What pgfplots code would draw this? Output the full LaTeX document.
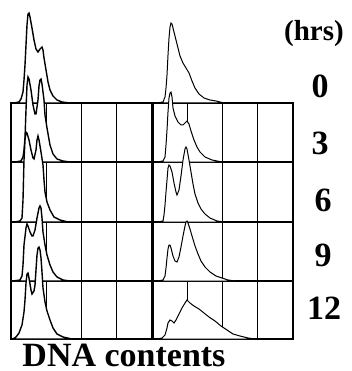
\documentclass[border=0pt]{standalone}
\usepackage{pgfplots}
\pgfplotsset{compat=1.18}
\usepackage{fontspec}
\setmainfont{Liberation Serif}
\begin{document}
\begin{tikzpicture}
\begin{axis}[
 scale only axis, width=282pt, height=236pt,
 xmin=11, xmax=293, ymin=103, ymax=339, y dir=reverse,
 clip=false,
 ticks=none,
 axis line style={black, line width=1.3pt},
]
\path (axis cs:0,0) (axis cs:352,371);
% grid
\addplot[black, line width=1.3pt, unbounded coords=jump] coordinates {(46.25,103)(46.25,339)(nan,nan)(81.5,103)(81.5,339)(nan,nan)(116.75,103)(116.75,339)(nan,nan)(187.25,103)(187.25,339)(nan,nan)(222.5,103)(222.5,339)(nan,nan)(257.75,103)(257.75,339)(nan,nan)(11,162)(293,162)(nan,nan)(11,222)(293,222)(nan,nan)(11,281)(293,281)};
\addplot[black, line width=3pt] coordinates {(152,103)(152,339)};
% row 0
\addplot[draw=black, fill=white, line width=1.4pt] coordinates {(14,103)(19,102)(21,99)(23,92)(24,80)(25,65)(26,45)(27,25)(28,14)(29,13)(30,17)(32,28)(34,40)(36,49)(38,52)(40,49)(42,47)(43,50)(44,58)(46,70)(48,82)(50,90)(53,96)(57,100)(62,102)(70,103)} -- cycle;
\addplot[draw=black, fill=white, line width=1pt] coordinates {(156,103)(163,102)(165,97)(166,88)(167,75)(168,55)(169,38)(170,27)(171,23)(172,24)(174,32)(176,40)(178,48)(180,56)(183,63)(186,68)(189,73)(192,81)(195,88)(199,94)(204,98)(210,100)(216,101)(224,103)} -- cycle;
% row 3
\addplot[draw=black, fill=white, line width=1.4pt] coordinates {(15,162)(21,161)(23,157)(24,150)(25,138)(26,110)(27,85)(28,77)(29,79)(31,90)(33,105)(35,114)(36,114)(38,100)(39,86)(40,80)(41,79)(42,84)(44,100)(45,115)(47,128)(50,145)(53,154)(57,159)(63,161)(70,162)} -- cycle;
\addplot[draw=black, fill=white, line width=1pt] coordinates {(157,162)(163,161)(165,157)(166,145)(167,130)(168,112)(169,98)(170,93)(171,92)(172,97)(173,108)(175,116)(178,122)(181,125)(183,125)(185,123)(187,121)(189,124)(191,131)(194,140)(197,147)(200,152)(205,157)(212,160)(222,162)} -- cycle;
% row 6
\addplot[draw=black, fill=white, line width=1.4pt] coordinates {(15,222)(20,221)(22,218)(23,200)(24,160)(25,140)(26,132)(27,133)(29,140)(31,150)(33,158)(34,159)(36,150)(37,140)(38,136)(39,140)(41,152)(43,165)(44,180)(45,192)(47,202)(50,210)(54,217)(60,220)(68,222)} -- cycle;
\addplot[draw=black, fill=white, line width=1pt] coordinates {(157,222)(163,221)(164,215)(165,205)(166,192)(167,180)(168,168)(169,165)(170,166)(172,172)(174,183)(176,192)(177,195)(179,190)(181,176)(183,160)(185,149)(186,147)(187,149)(189,160)(191,172)(193,184)(195,194)(198,203)(201,209)(205,214)(210,218)(217,221)(224,222)} -- cycle;
% row 9
\addplot[draw=black, fill=white, line width=1.4pt] coordinates {(13,281)(20,280)(22,276)(23,265)(24,245)(26,228)(27,224)(28,226)(30,232)(32,236)(33,236)(35,230)(37,218)(39,208)(40,206)(41,208)(42,218)(43,232)(45,245)(47,255)(50,265)(53,272)(57,277)(63,280)(70,281)} -- cycle;
\addplot[draw=black, fill=white, line width=1pt] coordinates {(158,281)(163,280)(165,276)(166,268)(167,258)(168,249)(169,245)(170,245)(171,248)(173,256)(175,261)(177,262)(179,257)(181,247)(183,236)(185,226)(186,222)(187,221)(188,223)(190,229)(192,236)(195,246)(198,254)(201,261)(205,267)(210,272)(216,276)(222,278)(228,280)(235,281)} -- cycle;
% row 12
\addplot[draw=black, fill=white, line width=1.4pt] coordinates {(13,339)(16,337)(19,333)(22,325)(24,312)(25,300)(26,283)(27,274)(28,273)(29,278)(31,290)(32,294)(34,291)(35,285)(36,270)(37,255)(38,248)(39,247)(40,250)(41,258)(42,272)(43,288)(45,302)(47,311)(50,320)(53,328)(57,334)(63,337)(72,339)} -- cycle;
\addplot[draw=black, fill=white, line width=1pt] coordinates {(157,339)(162,338)(165,335)(167,328)(168,323)(170,320)(172,321)(174,323)(176,320)(179,314)(182,308)(185,303)(187,300)(190,303)(194,306)(199,309)(204,313)(209,317)(215,321)(221,326)(227,330)(233,334)(240,336)(248,338)(255,339)} -- cycle;
% labels
\node[font=\bfseries\fontsize{29}{29}\selectfont, inner sep=0pt] at (axis cs:314,34) {(hrs)};
\node[font=\bfseries\fontsize{34}{34}\selectfont, inner sep=0pt] at (axis cs:320,86) {0};
\node[font=\bfseries\fontsize{34}{34}\selectfont, inner sep=0pt] at (axis cs:320,143) {3};
\node[font=\bfseries\fontsize{34}{34}\selectfont, inner sep=0pt] at (axis cs:323,200) {6};
\node[font=\bfseries\fontsize{34}{34}\selectfont, inner sep=0pt] at (axis cs:323,255) {9};
\node[font=\bfseries\fontsize{34}{34}\selectfont, inner sep=0pt] at (axis cs:324,308) {12};
\node[font=\bfseries\fontsize{34}{34}\selectfont, inner sep=0pt] at (axis cs:124,355) {DNA contents};
\end{axis}
\end{tikzpicture}
\end{document}
